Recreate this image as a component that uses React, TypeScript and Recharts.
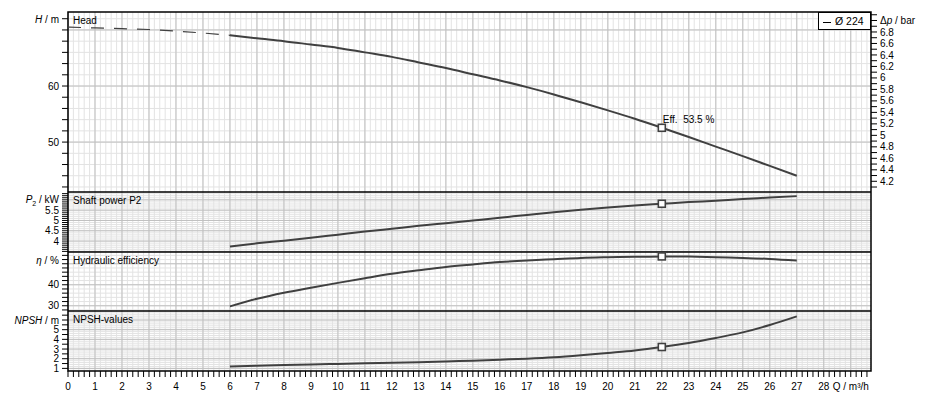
import React from "react";
import {
  CartesianGrid,
  Line,
  LineChart,
  ReferenceArea,
  ReferenceDot,
  XAxis,
  YAxis,
} from "recharts";

// flow rate Q / m³/h
const Q_EXT = [0, 1, 2, 3, 4, 5, 6];
const HEAD_EXT = [70.5, 70.36, 70.23, 70.08, 69.8, 69.45, 69.04];

const Q = [6, 7, 8, 9, 10, 11, 12, 13, 14, 15, 16, 17, 18, 19, 20, 21, 22, 23, 24, 25, 26, 27];
const HEAD = [69.04, 68.5, 68.0, 67.4, 66.8, 66.0, 65.2, 64.2, 63.2, 62.1, 61.0, 59.8, 58.5, 57.1, 55.65, 54.15, 52.55, 50.9, 49.2, 47.5, 45.75, 44.0];
const POWER = [3.74, 3.89, 4.02, 4.16, 4.31, 4.46, 4.6, 4.74, 4.87, 5.0, 5.13, 5.27, 5.4, 5.52, 5.63, 5.73, 5.81, 5.89, 5.96, 6.04, 6.11, 6.18];
const EFF = [29.7, 33.3, 36.2, 38.6, 40.9, 43.1, 45.2, 46.9, 48.5, 49.7, 50.8, 51.6, 52.2, 52.8, 53.1, 53.3, 53.5, 53.4, 53.1, 52.8, 52.3, 51.5];
const NPSH = [1.2, 1.28, 1.35, 1.41, 1.46, 1.52, 1.57, 1.63, 1.71, 1.8, 1.9, 2.0, 2.14, 2.35, 2.6, 2.86, 3.21, 3.62, 4.14, 4.72, 5.48, 6.37];

const DUTY_Q = 22;
const EFF_LABEL = "Eff.  53.5 %";
const LEGEND_LABEL = "Ø 224";

const FONT = '"Liberation Sans", Arial, sans-serif';
const FS = 10;
const CURVE = "#404040";
const W = 939;
const X_DOMAIN: [number, number] = [0, 29.75];
const H_DOMAIN: [number, number] = [41.1, 73.2];
const BAR_PER_M = 0.09765;
const DP_DOMAIN: [number, number] = [H_DOMAIN[0] * BAR_PER_M, H_DOMAIN[1] * BAR_PER_M];
const P_DOMAIN: [number, number] = [3.47, 6.38];
const E_DOMAIN: [number, number] = [27.5, 55.6];
const N_DOMAIN: [number, number] = [0.73, 6.93];

const range = (a: number, b: number, s: number) => {
  const out: number[] = [];
  for (let i = 0; a + i * s <= b + 1e-9; i++) out.push(Math.round((a + i * s) * 1000) / 1000);
  return out;
};

const X_TICKS = range(0, 29.6, 0.2);
const X_MAJOR = range(0, 29, 1);
const X_MINOR = range(0, 29.6, 0.2);

const TICK = { fontSize: FS, fill: "#000", fontFamily: FONT };

const rows = (xs: number[], ys: number[]) => xs.map((q, i) => ({ q, v: ys[i] }));
const at = (ys: number[], q: number) => ys[Q.indexOf(q)];

const fmtQ = (v: number) => {
  if (Math.abs(v - 29) < 1e-6) return "Q / m³/h";
  return Number.isInteger(Math.round(v * 1000) / 1000) && v <= 28 ? String(v) : "";
};

const labelOnly = (labels: number[]) => (v: number) =>
  labels.some((l) => Math.abs(l - v) < 1e-6) ? String(v) : "";

const Square = (props: any) => (
  <rect x={props.cx - 3.5} y={props.cy - 3.5} width={7} height={7} fill="#fff" stroke={CURVE} strokeWidth={1.6} />
);

const SquareWithText = (props: any) => (
  <g>
    <rect x={props.cx - 3.5} y={props.cy - 3.5} width={7} height={7} fill="#fff" stroke={CURVE} strokeWidth={1.6} />
    <text x={props.cx + 1} y={props.cy - 5} fontSize={FS} fontFamily={FONT} fill="#000" style={{ whiteSpace: "pre" }}>
      {EFF_LABEL}
    </text>
  </g>
);

interface PanelProps {
  top: number;
  height: number;
  marginTop?: number;
  title: string;
  domain: [number, number];
  ticks: number[];
  labels: number[];
  major: number[];
  minor: number[];
  values: number[];
  head?: boolean;
  bottomAxis?: boolean;
}

function Panel(p: PanelProps) {
  return (
    <div style={{ position: "absolute", left: 0, top: p.top }}>
      <LineChart
        width={W}
        height={p.height}
        margin={{ top: p.marginTop ?? 0, right: p.head ? 8 : 68, bottom: 0, left: 0 }}
      >
        <XAxis
          dataKey="q"
          type="number"
          domain={X_DOMAIN}
          allowDataOverflow
          hide={!p.bottomAxis}
          ticks={X_TICKS}
          interval={0}
          tickFormatter={fmtQ}
          tickSize={6}
          tickMargin={6}
          height={30}
          tick={TICK}
          axisLine={false}
          tickLine={{ stroke: "#000" }}
        />
        <YAxis
          type="number"
          domain={p.domain}
          allowDataOverflow
          ticks={p.ticks}
          interval={0}
          tickFormatter={labelOnly(p.labels)}
          width={68}
          tickSize={6}
          tickMargin={3}
          tick={TICK}
          axisLine={false}
          tickLine={{ stroke: "#000" }}
        />
        {p.head && (
          <YAxis
            yAxisId="dp"
            orientation="right"
            type="number"
            domain={DP_DOMAIN}
            allowDataOverflow
            ticks={range(4.1, 7.1, 0.1)}
            interval={0}
            tickFormatter={labelOnly(range(4.2, 6.8, 0.2))}
            width={60}
            tickSize={6}
            tickMargin={3}
            tick={TICK}
            axisLine={false}
            tickLine={{ stroke: "#000" }}
          />
        )}
        <CartesianGrid horizontalValues={p.minor} verticalValues={X_MINOR} stroke="#e3e3e3" />
        <CartesianGrid horizontalValues={p.major} verticalValues={X_MAJOR} stroke="#c0c0c0" />
        <ReferenceArea
          x1={X_DOMAIN[0]}
          x2={X_DOMAIN[1]}
          y1={p.domain[0]}
          y2={p.domain[1]}
          fill="none"
          stroke="#000"
          strokeWidth={1.5}
          label={{ value: p.title, position: "insideTopLeft", offset: 5, fill: "#000", fontSize: FS, fontFamily: FONT }}
        />
        {p.head && (
          <Line
            data={rows(Q_EXT, HEAD_EXT)}
            dataKey="v"
            type="monotone"
            stroke={CURVE}
            strokeWidth={1.2}
            strokeDasharray="13 10"
            dot={false}
            isAnimationActive={false}
          />
        )}
        <Line
          data={rows(Q, p.values)}
          dataKey="v"
          type="monotone"
          stroke={CURVE}
          strokeWidth={2}
          dot={false}
          isAnimationActive={false}
        />
        <ReferenceDot x={DUTY_Q} y={at(p.values, DUTY_Q)} shape={p.head ? SquareWithText : Square} />
      </LineChart>
    </div>
  );
}

const Title = ({ y, children }: { y: number; children: React.ReactNode }) => (
  <div
    style={{
      position: "absolute",
      left: 0,
      width: 59,
      top: y - 6,
      textAlign: "right",
      fontSize: FS,
      lineHeight: "12px",
      fontFamily: FONT,
      whiteSpace: "nowrap",
    }}
  >
    {children}
  </div>
);

export default function App() {
  return (
    <div style={{ position: "absolute", left: 0, top: 0, width: W, height: 401, background: "#fff", fontFamily: FONT }}>
      <Panel
        top={0}
        height={192}
        marginTop={12}
        title="Head"
        domain={H_DOMAIN}
        ticks={range(42, 72, 2)}
        labels={[50, 60]}
        major={[50, 60, 70]}
        minor={range(42, 72, 2)}
        values={HEAD}
        head
      />
      <Panel
        top={192}
        height={60}
        title="Shaft power P2"
        domain={P_DOMAIN}
        ticks={range(3.5, 6.3, 0.1)}
        labels={[4, 4.5, 5, 5.5]}
        major={range(3.5, 6, 0.5)}
        minor={range(3.5, 6.3, 0.1)}
        values={POWER}
      />
      <Panel
        top={252}
        height={59}
        title="Hydraulic efficiency"
        domain={E_DOMAIN}
        ticks={range(28, 54, 2)}
        labels={[30, 40]}
        major={[30, 40, 50]}
        minor={range(28, 54, 2)}
        values={EFF}
      />
      <Panel
        top={311}
        height={90}
        title="NPSH-values"
        domain={N_DOMAIN}
        ticks={range(1, 6.5, 0.5)}
        labels={[1, 2, 3, 4, 5]}
        major={range(1, 6, 1)}
        minor={range(0.8, 6.8, 0.2)}
        values={NPSH}
        bottomAxis
      />

      <Title y={20}>
        <i>H</i> / m
      </Title>
      <Title y={200}>
        <i>P</i>
        <sub style={{ fontSize: 7, lineHeight: 0 }}>2</sub> / kW
      </Title>
      <Title y={261}>
        <i>η</i> / %
      </Title>
      <Title y={321}>
        <i>NPSH</i> / m
      </Title>
      <div style={{ position: "absolute", left: 880, top: 15, fontSize: FS, lineHeight: "12px", whiteSpace: "nowrap" }}>
        Δ<i>p</i> / bar
      </div>
      <div
        style={{
          position: "absolute",
          left: 818,
          top: 12,
          width: 53,
          height: 18,
          boxSizing: "border-box",
          border: "1px solid #000",
          background: "#fff",
          fontSize: 10.5,
          lineHeight: "16px",
          whiteSpace: "nowrap",
        }}
      >
        <span style={{ display: "inline-block", width: 8, height: 0, borderTop: "1px solid #000", verticalAlign: "middle", margin: "0 4px 0 4px" }} />
        {LEGEND_LABEL}
      </div>
    </div>
  );
}
